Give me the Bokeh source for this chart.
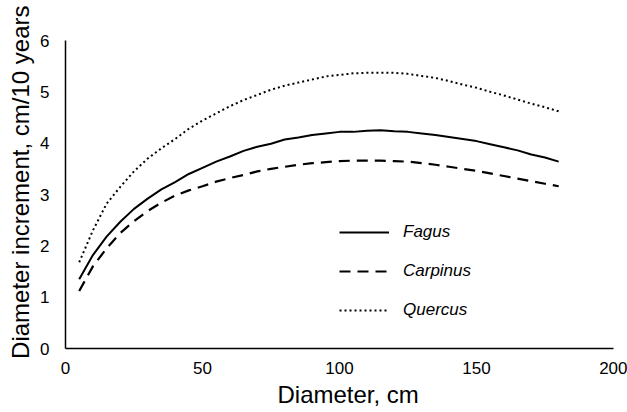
from bokeh.plotting import figure
from bokeh.models import Legend, LegendItem, Title, FixedTicker
from bokeh.embed import file_html
from bokeh.resources import INLINE

diameter = [5, 10, 15, 20, 25, 30, 35, 40, 45, 50, 55, 60, 65, 70, 75, 80, 85, 90,
            95, 100, 105, 110, 115, 120, 125, 130, 135, 140, 145, 150, 155, 160, 165, 170, 175, 180]
fagus = [1.35, 1.82, 2.18, 2.47, 2.72, 2.92, 3.10, 3.24, 3.40, 3.52, 3.64, 3.74, 3.85, 3.93, 3.99, 4.07, 4.11, 4.16,
         4.19, 4.22, 4.22, 4.24, 4.25, 4.23, 4.22, 4.19, 4.16, 4.12, 4.08, 4.04, 3.98, 3.92, 3.86, 3.78, 3.72, 3.64]
carpinus = [1.12, 1.60, 1.95, 2.25, 2.48, 2.68, 2.84, 2.98, 3.08, 3.16, 3.25, 3.32, 3.38, 3.45, 3.50, 3.54, 3.58, 3.61,
            3.63, 3.65, 3.66, 3.66, 3.66, 3.65, 3.64, 3.61, 3.58, 3.54, 3.50, 3.46, 3.41, 3.36, 3.31, 3.26, 3.21, 3.16]
quercus = [1.68, 2.30, 2.82, 3.15, 3.45, 3.70, 3.90, 4.08, 4.28, 4.44, 4.58, 4.72, 4.84, 4.94, 5.04, 5.12, 5.18, 5.24,
           5.30, 5.33, 5.36, 5.37, 5.37, 5.37, 5.35, 5.31, 5.27, 5.21, 5.14, 5.08, 5.00, 4.93, 4.85, 4.77, 4.70, 4.62]
x_ticks = [0, 50, 100, 150, 200]
y_ticks = [0, 1, 2, 3, 4, 5, 6]
series_names = ["Fagus", "Carpinus", "Quercus"]
y_title = "Diameter increment, cm/10 years"
x_title = "Diameter, cm"

FONT = "Liberation Sans"

p = figure(width=627, height=412, x_range=(0, 200), y_range=(0, 6),
           output_backend="svg", toolbar_location=None,
           min_border_left=63, min_border_right=14, min_border_top=40, min_border_bottom=64)
p.grid.visible = False
p.outline_line_color = None
p.background_fill_color = "white"
p.border_fill_color = "white"

for ax, ticks in ((p.xaxis, x_ticks), (p.yaxis, y_ticks)):
    ax.ticker = FixedTicker(ticks=ticks)
    ax.major_tick_line_color = None
    ax.minor_tick_line_color = None
    ax.axis_line_color = "black"
    ax.axis_line_width = 1.5
    ax.major_label_text_font = FONT
    ax.major_label_text_font_size = "17px"
    ax.major_label_text_color = "black"

p.xaxis.major_label_standoff = 7
p.yaxis.major_label_standoff = 10

xtitle = Title(text=x_title, align="left", offset=212,
               text_font=FONT, text_font_size="24px", text_font_style="normal",
               text_color="black", standoff=5)
p.add_layout(xtitle, "below")

ytitle = Title(text=y_title, align="right", offset=-35,
               text_font=FONT, text_font_size="24px", text_font_style="normal",
               text_color="black", standoff=8)
p.add_layout(ytitle, "left")

r1 = p.line(diameter, fagus, line_color="black", line_width=2)
r2 = p.line(diameter, carpinus, line_color="black", line_width=2.2, line_dash="11 7")
r3 = p.line(diameter, quercus, line_color="black", line_width=2, line_dash="2 3")

legend = Legend(items=[LegendItem(label=series_names[0], renderers=[r1]),
                       LegendItem(label=series_names[1], renderers=[r2]),
                       LegendItem(label=series_names[2], renderers=[r3])],
                location=(274, 28), orientation="vertical",
                glyph_width=50, glyph_height=20, label_height=20, spacing=19,
                label_standoff=14, padding=0, margin=0,
                border_line_color=None, background_fill_alpha=0,
                label_text_font=FONT, label_text_font_size="17px",
                label_text_font_style="italic", label_text_color="black")
p.add_layout(legend)

open("out.html", "w").write(file_html(p, INLINE))
